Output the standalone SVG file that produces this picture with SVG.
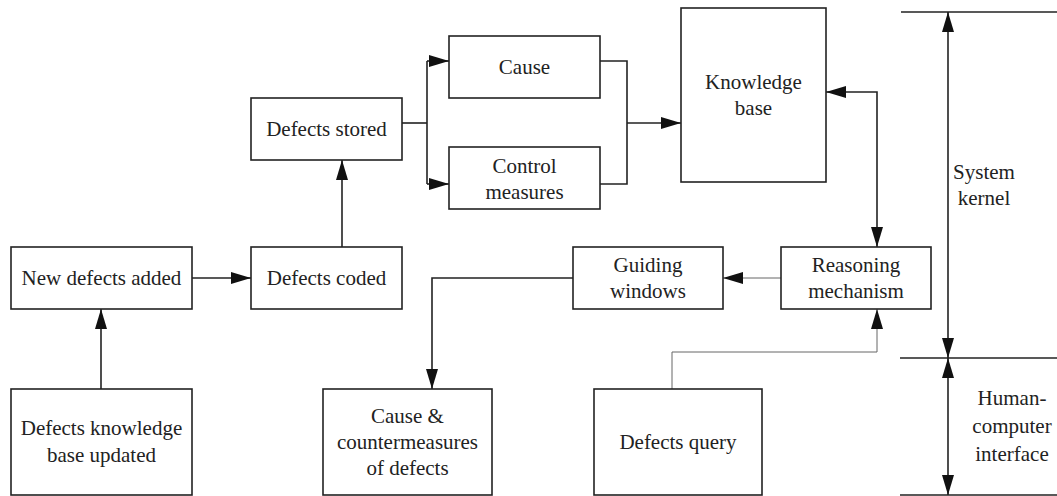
<svg xmlns="http://www.w3.org/2000/svg" width="1057" height="496" viewBox="0 0 1057 496">
<style>
.box{fill:#fff;stroke:#222;stroke-width:1.6}
.t{font-family:"Liberation Serif","Times New Roman",serif;font-size:21px;fill:#222;text-anchor:middle}
.c{fill:none;stroke:#222;stroke-width:1.6}
.thin{fill:none;stroke:#666;stroke-width:1}
</style>
<defs>
<marker id="ah" markerUnits="userSpaceOnUse" markerWidth="20" markerHeight="12" refX="20" refY="6" orient="auto-start-reverse" viewBox="0 0 20 12">
<path d="M0,0 L20,6 L0,12 z" fill="#111"/>
</marker>
</defs>
<rect width="1057" height="496" fill="#fff"/>
<g id="connectors">
<path class="c" d="M192,278 H251" marker-end="url(#ah)"/>
<path class="c" d="M101,389 V309" marker-end="url(#ah)"/>
<path class="c" d="M342,247 V160" marker-end="url(#ah)"/>
<path class="c" d="M402,123 H427"/>
<path class="c" d="M427,61 V184"/>
<path class="c" d="M427,61 H449" marker-end="url(#ah)"/>
<path class="c" d="M427,184 H449" marker-end="url(#ah)"/>
<path class="c" d="M600,61 H627 V184 H600"/>
<path class="c" d="M627,123 H681" marker-end="url(#ah)"/>
<path class="c" d="M826,92 H877 V247" marker-start="url(#ah)" marker-end="url(#ah)"/>
<path class="thin" d="M781,278 H723" marker-end="url(#ah)"/>
<path class="c" d="M573,278 H432 V389" marker-end="url(#ah)"/>
<path class="thin" d="M672,389 V352 H877 V309" marker-end="url(#ah)"/>
<path class="c" d="M901,12 H1057"/>
<path class="c" d="M900,358 H1057"/>
<path class="c" d="M900,495 H1057"/>
<path class="c" d="M948,12 V358" marker-start="url(#ah)" marker-end="url(#ah)"/>
<path class="c" d="M948,358 V495" marker-start="url(#ah)" marker-end="url(#ah)"/>
</g>
<g id="new-defects-added"><rect class="box" x="11" y="247" width="181" height="62"/><text class="t" x="101.5" y="285">New defects added</text></g>
<g id="defects-coded"><rect class="box" x="251" y="247" width="151" height="62"/><text class="t" x="326.5" y="285">Defects coded</text></g>
<g id="defects-stored"><rect class="box" x="251" y="98" width="151" height="62"/><text class="t" x="326.5" y="136">Defects stored</text></g>
<g id="cause"><rect class="box" x="449" y="36" width="151" height="62"/><text class="t" x="524.5" y="74">Cause</text></g>
<g id="control-measures"><rect class="box" x="449" y="147" width="151" height="62"/><text class="t" x="524.5" y="173">Control</text><text class="t" x="524.5" y="199">measures</text></g>
<g id="knowledge-base"><rect class="box" x="681" y="8" width="145" height="174"/><text class="t" x="753.5" y="89">Knowledge</text><text class="t" x="753.5" y="115">base</text></g>
<g id="guiding-windows"><rect class="box" x="573" y="247" width="150" height="62"/><text class="t" x="648" y="272">Guiding</text><text class="t" x="648" y="298">windows</text></g>
<g id="reasoning-mechanism"><rect class="box" x="781" y="247" width="150" height="62"/><text class="t" x="856" y="272">Reasoning</text><text class="t" x="856" y="298">mechanism</text></g>
<g id="defects-kb-updated"><rect class="box" x="11" y="389" width="181" height="106"/><text class="t" x="101.5" y="435">Defects knowledge</text><text class="t" x="101.5" y="462">base updated</text></g>
<g id="cause-countermeasures"><rect class="box" x="323" y="389" width="169" height="106"/><text class="t" x="407.5" y="423">Cause &amp;</text><text class="t" x="407.5" y="449">countermeasures</text><text class="t" x="407.5" y="475">of defects</text></g>
<g id="defects-query"><rect class="box" x="594" y="389" width="168" height="106"/><text class="t" x="678" y="449">Defects query</text></g>
<g id="system-kernel"><text class="t" x="984" y="179">System</text><text class="t" x="984" y="205">kernel</text></g>
<g id="hci"><text class="t" x="1012" y="405">Human-</text><text class="t" x="1012" y="433">computer</text><text class="t" x="1012" y="461">interface</text></g>
</svg>
